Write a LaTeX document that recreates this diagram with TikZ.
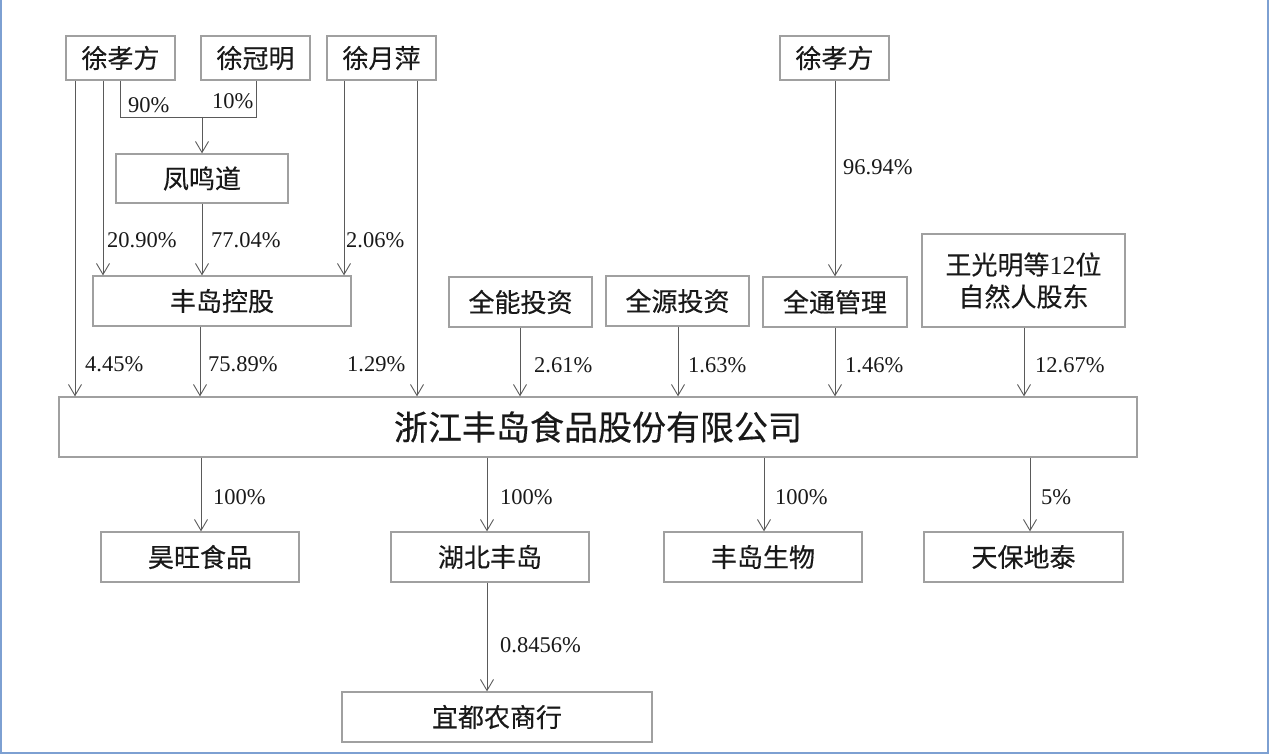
\documentclass[tikz,border=0pt]{standalone}
\usepackage{fontspec}
\setmainfont{Liberation Serif}
\newfontfamily\cjk{Noto Sans CJK SC}[FakeBold=0.35]
\usetikzlibrary{arrows.meta}
\definecolor{boxline}{RGB}{160,160,160}
\definecolor{arrline}{RGB}{90,90,90}
\definecolor{framec}{RGB}{125,160,210}
\definecolor{txt}{RGB}{25,25,25}
\tikzset{
  box/.style={draw=boxline, line width=1.3pt, fill=white, inner sep=0pt,
    minimum height=50pt, text=txt, font=\cjk\fontsize{26}{32}\selectfont, align=center},
  arr/.style={draw=arrline, line width=0.9pt, -{Straight Barb[length=11pt,width=13pt]}},
  ln/.style={draw=arrline, line width=0.9pt},
  pct/.style={anchor=west, inner sep=0pt, text=txt, font=\fontsize{22.5}{26}\selectfont},
}
\begin{document}
\begin{tikzpicture}[x=1pt,y=-1pt]
\useasboundingbox (0,0) rectangle (1269,754);
% frame
\draw[framec, line width=2pt] (1,0) -- (1,752.5) -- (1267.5,752.5) -- (1267.5,0);
% nodes
\node[box, minimum width=109pt, minimum height=44pt] (p1) at (120.5,58) {徐孝方};
\node[box, minimum width=109pt, minimum height=44pt] (p2) at (255.5,58) {徐冠明};
\node[box, minimum width=109pt, minimum height=44pt] (p3) at (381.5,58) {徐月萍};
\node[box, minimum width=109pt, minimum height=44pt] (p4) at (834.5,58) {徐孝方};
\node[box, minimum width=172pt, minimum height=49pt] (fmd) at (202,178.5) {凤鸣道};
\node[box, minimum width=258pt] (fdk) at (222,301) {丰岛控股};
\node[box, minimum width=143pt] (qn) at (520.5,302) {全能投资};
\node[box, minimum width=143pt] (qy) at (677.5,301) {全源投资};
\node[box, minimum width=144pt] (qt) at (835,302) {全通管理};
\node[box, minimum width=203pt, minimum height=93pt] (wgm) at (1023.5,280.5) {王光明等{\rmfamily 12}位\\自然人股东};
\node[box, minimum width=1078pt, minimum height=60pt, font=\cjk\fontsize{34}{40}\selectfont] (main) at (598,427) {浙江丰岛食品股份有限公司};
\node[box, minimum width=198pt] (hw) at (200,557) {昊旺食品};
\node[box, minimum width=198pt] (hb) at (490,557) {湖北丰岛};
\node[box, minimum width=198pt] (fs) at (763,557) {丰岛生物};
\node[box, minimum width=199pt] (tb) at (1023.5,557) {天保地泰};
\node[box, minimum width=310pt] (yd) at (497,717) {宜都农商行};
% connectors: top level
\coordinate (j) at (202,117);
\draw[ln] (120,0 |- p1.south) -- (120,0 |- j) -- (256,0 |- j) -- (256,0 |- p2.south);
\draw[arr] (j) -- (j |- fmd.north);
\node[pct] at (128,105) {90\%};
\node[pct] at (212,101) {10\%};
\draw[arr] (75,0 |- p1.south) -- (75,0 |- main.north);
\node[pct] at (85,364) {4.45\%};
\draw[arr] (103,0 |- p1.south) -- (103,0 |- fdk.north);
\node[pct] at (107,240) {20.90\%};
\draw[arr] (202,0 |- fmd.south) -- (202,0 |- fdk.north);
\node[pct] at (211,240) {77.04\%};
\draw[arr] (344,0 |- p3.south) -- (344,0 |- fdk.north);
\node[pct] at (346,240) {2.06\%};
\draw[arr] (417,0 |- p3.south) -- (417,0 |- main.north);
\node[pct] at (347,364) {1.29\%};
\draw[arr] (200,0 |- fdk.south) -- (200,0 |- main.north);
\node[pct] at (208,364) {75.89\%};
\draw[arr] (520,0 |- qn.south) -- (520,0 |- main.north);
\node[pct] at (534,365) {2.61\%};
\draw[arr] (678,0 |- qy.south) -- (678,0 |- main.north);
\node[pct] at (688,365) {1.63\%};
\draw[arr] (835,0 |- qt.south) -- (835,0 |- main.north);
\node[pct] at (845,365) {1.46\%};
\draw[arr] (835,0 |- p4.south) -- (835,0 |- qt.north);
\node[pct] at (843,167) {96.94\%};
\draw[arr] (1024,0 |- wgm.south) -- (1024,0 |- main.north);
\node[pct] at (1035,365) {12.67\%};
% subsidiaries
\draw[arr] (201,0 |- main.south) -- (201,0 |- hw.north);
\node[pct] at (213,497) {100\%};
\draw[arr] (487,0 |- main.south) -- (487,0 |- hb.north);
\node[pct] at (500,497) {100\%};
\draw[arr] (764,0 |- main.south) -- (764,0 |- fs.north);
\node[pct] at (775,497) {100\%};
\draw[arr] (1030,0 |- main.south) -- (1030,0 |- tb.north);
\node[pct] at (1041,497) {5\%};
\draw[arr] (487,0 |- hb.south) -- (487,0 |- yd.north);
\node[pct] at (500,645) {0.8456\%};
\end{tikzpicture}
\end{document}
